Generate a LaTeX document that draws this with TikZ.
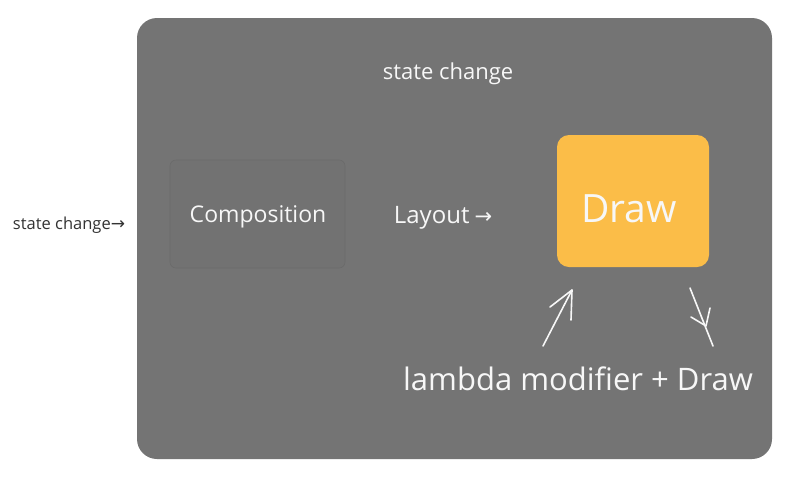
\documentclass[tikz,border=0pt]{standalone}
\usepackage{fontspec}
\setmainfont{Open Sans}
\newfontfamily\arrowfont{DejaVu Sans}
\definecolor{panel}{HTML}{747474}
\definecolor{compfill}{HTML}{727272}
\definecolor{compline}{HTML}{6B6B6B}
\definecolor{drawbox}{HTML}{FBBD48}
\definecolor{softwhite}{HTML}{F7F7F7}
\definecolor{darktext}{HTML}{333333}
\begin{document}
\begin{tikzpicture}[x=1pt,y=-1pt,
  lbl/.style={text=softwhite, inner sep=0pt},
  hand/.style={draw=softwhite, line width=1.6pt, line cap=round, line join=round}]
\useasboundingbox (0,0) rectangle (800,480);
\fill[white] (0,0) rectangle (800,480);
\node[fill=panel, rounded corners=20pt, minimum width=635pt, minimum height=441pt, inner sep=0pt] (panel) at (454.5,238.5) {};
\node[fill=compfill, draw=compline, line width=0.6pt, rounded corners=6pt, minimum width=175pt, minimum height=108pt, inner sep=0pt] (comp) at (257.5,214) {};
\node[lbl, font=\fontsize{23}{26}\selectfont] (comptext) at (258,217) {Composition};
\node[fill=drawbox, rounded corners=12pt, minimum width=152pt, minimum height=132pt, inner sep=0pt] (draw) at (633,201) {};
\node[lbl, font=\fontsize{39}{44}\selectfont] (drawlabel) at (629,209) {Draw};
\node[lbl, font=\fontsize{22}{24}\selectfont] (top) at (448,74) {state change};
\node[lbl, font=\fontsize{24}{26}\selectfont] (layout) at (443,218) {Layout\hspace{5pt}{\arrowfont\fontsize{21}{24}\selectfont →}};
\node[text=darktext, inner sep=0pt, font=\fontsize{16.5}{18}\selectfont] (left) at (69,225) {state change{\arrowfont\fontsize{17}{18}\selectfont →}};
\node[lbl, font=\fontsize{31}{34}\selectfont] (bottom) at (578,379) {lambda modifier + Draw};
% hand-drawn arrows
\coordinate (upstart) at (543,346);
\coordinate (uptip) at (572,290);
\coordinate (upb1) at (550,307);
\coordinate (upb2) at (571,320);
\draw[hand] (upstart) -- (uptip);
\draw[hand] (upb1) -- (uptip) -- (upb2);
\coordinate (dnstart) at (690,288);
\coordinate (dnend) at (713,346);
\coordinate (dnmid) at (706,326);
\coordinate (dnb1) at (691,317);
\coordinate (dnb2) at (710,308);
\draw[hand] (dnstart) -- (dnend);
\draw[hand] (dnb1) -- (dnmid) -- (dnb2);
\end{tikzpicture}
\end{document}
